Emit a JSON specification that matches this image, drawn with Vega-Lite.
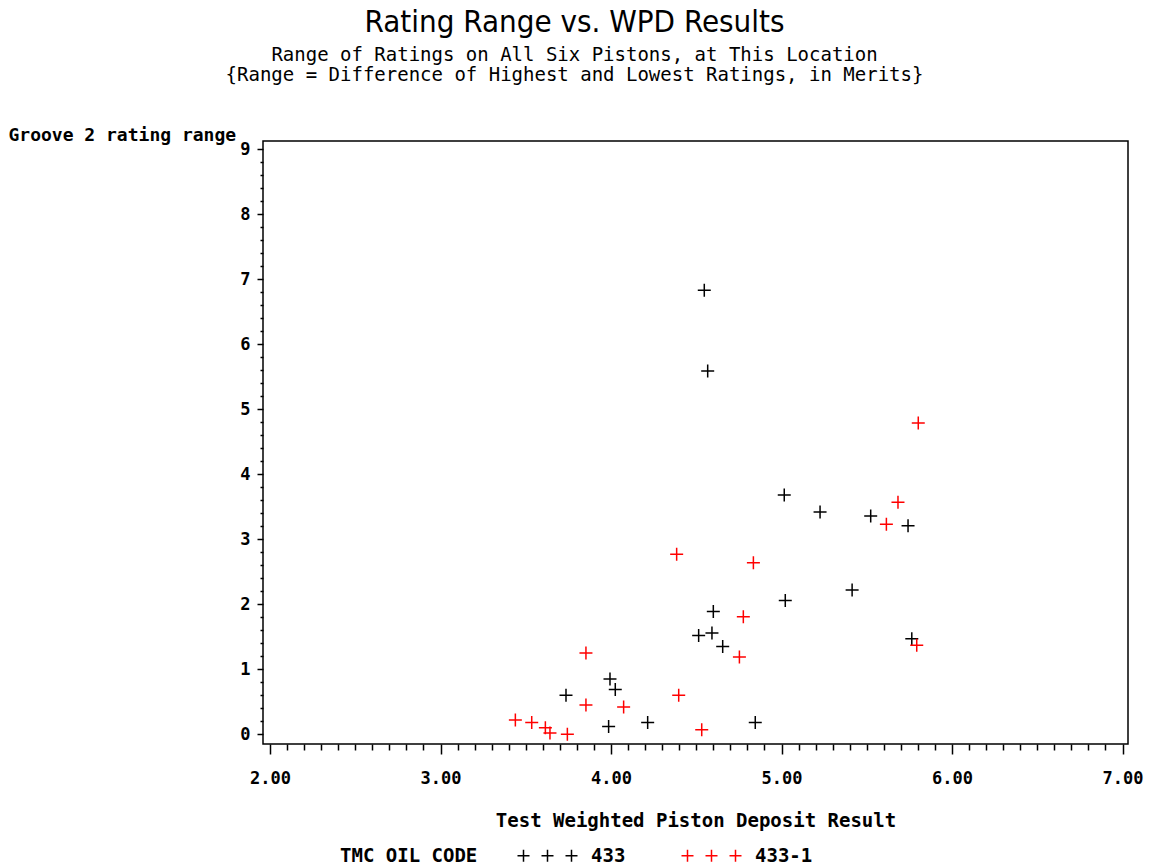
{
  "$schema": "https://vega.github.io/schema/vega-lite/v6.json",
  "width": 865,
  "height": 603,
  "autosize": {"type": "none"},
  "padding": {"left": 263, "top": 141, "right": 22, "bottom": 121},
  "background": "white",
  "config": {
    "view": {"stroke": "black", "strokeWidth": 1.5},
    "axis": {
      "domain": false,
      "grid": false,
      "tickColor": "black",
      "tickWidth": 1.5,
      "labelColor": "black",
      "labelFont": "DejaVu Sans Mono",
      "labelFontWeight": "bold",
      "labelFontSize": 17,
      "titleColor": "black",
      "titleFont": "DejaVu Sans Mono",
      "titleFontWeight": "bold",
      "titleFontSize": 19
    }
  },
  "title": {
    "text": "Rating Range vs. WPD Results",
    "subtitle": ["Range of Ratings on All Six Pistons, at This Location", "{Range = Difference of Highest and Lowest Ratings, in Merits}"],
    "anchor": "middle",
    "frame": "group",
    "dx": -121,
    "offset": 40,
    "font": "Liberation Sans Narrow, DejaVu Sans Condensed, sans-serif",
    "fontSize": 31,
    "fontWeight": "normal",
    "color": "black",
    "subtitleFont": "DejaVu Sans Mono",
    "subtitleFontSize": 19,
    "subtitleColor": "black",
    "subtitleLineHeight": 20,
    "subtitlePadding": 7
  },
  "data": {
    "values": [
      {"code": "433", "wpd": 4.547, "range": 6.83},
      {"code": "433", "wpd": 4.567, "range": 5.59},
      {"code": "433", "wpd": 5.016, "range": 3.68},
      {"code": "433", "wpd": 5.226, "range": 3.42},
      {"code": "433", "wpd": 5.523, "range": 3.36},
      {"code": "433", "wpd": 5.742, "range": 3.21},
      {"code": "433", "wpd": 5.022, "range": 2.06},
      {"code": "433", "wpd": 5.414, "range": 2.22},
      {"code": "433", "wpd": 4.600, "range": 1.89},
      {"code": "433", "wpd": 4.514, "range": 1.52},
      {"code": "433", "wpd": 4.592, "range": 1.56},
      {"code": "433", "wpd": 4.655, "range": 1.35},
      {"code": "433", "wpd": 5.764, "range": 1.47},
      {"code": "433", "wpd": 3.994, "range": 0.85},
      {"code": "433", "wpd": 4.025, "range": 0.69},
      {"code": "433", "wpd": 3.736, "range": 0.60},
      {"code": "433", "wpd": 3.986, "range": 0.12},
      {"code": "433", "wpd": 4.215, "range": 0.18},
      {"code": "433", "wpd": 4.846, "range": 0.18},
      {"code": "433-1", "wpd": 5.802, "range": 4.79},
      {"code": "433-1", "wpd": 5.683, "range": 3.57},
      {"code": "433-1", "wpd": 5.615, "range": 3.23},
      {"code": "433-1", "wpd": 4.385, "range": 2.77},
      {"code": "433-1", "wpd": 4.835, "range": 2.64},
      {"code": "433-1", "wpd": 4.776, "range": 1.81},
      {"code": "433-1", "wpd": 5.793, "range": 1.37},
      {"code": "433-1", "wpd": 3.853, "range": 1.25},
      {"code": "433-1", "wpd": 4.753, "range": 1.19},
      {"code": "433-1", "wpd": 4.397, "range": 0.60},
      {"code": "433-1", "wpd": 3.853, "range": 0.45},
      {"code": "433-1", "wpd": 4.074, "range": 0.42},
      {"code": "433-1", "wpd": 3.439, "range": 0.22},
      {"code": "433-1", "wpd": 3.535, "range": 0.18},
      {"code": "433-1", "wpd": 3.615, "range": 0.10},
      {"code": "433-1", "wpd": 3.642, "range": 0.02},
      {"code": "433-1", "wpd": 3.744, "range": 0.00},
      {"code": "433-1", "wpd": 4.532, "range": 0.07}
    ]
  },
  "layer": [
    {
      "mark": {"type": "point", "shape": "M-1,0H1M0,-1V1", "filled": false, "size": 169, "strokeWidth": 1.5, "opacity": 1},
      "encoding": {
        "x": {
          "field": "wpd", "type": "quantitative",
          "scale": {"domain": [1.959, 7.032], "nice": false, "zero": false},
          "axis": {"orient": "bottom", "values": [2, 3, 4, 5, 6, 7], "format": ".2f", "tickSize": 10, "labelPadding": 16, "title": "Test Weighted Piston Deposit Result", "titlePadding": 25}
        },
        "y": {
          "field": "range", "type": "quantitative",
          "scale": {"domain": [-0.149, 9.128], "nice": false, "zero": false},
          "axis": {"orient": "left", "values": [0, 1, 2, 3, 4, 5, 6, 7, 8, 9], "format": "d", "tickSize": 6, "labelPadding": 7, "title": "Groove 2 rating range", "titleFontSize": 18, "titleAngle": 0, "titleAlign": "left", "titleBaseline": "middle", "titleX": -255, "titleY": -6}
        },
        "color": {
          "field": "code", "type": "nominal",
          "scale": {"domain": ["433", "433-1"], "range": ["#000000", "#ff0000"]},
          "legend": {
            "title": "TMC OIL CODE",
            "orient": "none",
            "legendX": 77,
            "legendY": 705,
            "direction": "horizontal",
            "columns": 2,
            "padding": 0,
            "titleOrient": "left",
            "titleFont": "DejaVu Sans Mono",
            "titleFontSize": 19,
            "titleFontWeight": "bold",
            "titleColor": "black",
            "titlePadding": 60,
            "labelFont": "DejaVu Sans Mono",
            "labelFontSize": 19,
            "labelFontWeight": "bold",
            "labelColor": "black",
            "labelOffset": 34,
            "columnPadding": 52,
            "symbolType": "M-5,0H-3M-4,-1V1M-1,0H1M0,-1V1M3,0H5M4,-1V1",
            "symbolSize": 144,
            "symbolStrokeWidth": 1.5
          }
        }
      }
    },
    {
      "mark": {"type": "point", "opacity": 0},
      "encoding": {
        "x": {
          "field": "wpd", "type": "quantitative",
          "axis": {"orient": "bottom", "title": null, "labels": false, "tickSize": 6,
            "values": [2.1, 2.2, 2.3, 2.4, 2.5, 2.6, 2.7, 2.8, 2.9, 3.1, 3.2, 3.3, 3.4, 3.5, 3.6, 3.7, 3.8, 3.9, 4.1, 4.2, 4.3, 4.4, 4.5, 4.6, 4.7, 4.8, 4.9, 5.1, 5.2, 5.3, 5.4, 5.5, 5.6, 5.7, 5.8, 5.9, 6.1, 6.2, 6.3, 6.4, 6.5, 6.6, 6.7, 6.8, 6.9]}
        },
        "y": {
          "field": "range", "type": "quantitative",
          "axis": {"orient": "left", "title": null, "labels": false, "tickSize": 3,
            "values": [0.2, 0.4, 0.6, 0.8, 1.2, 1.4, 1.6, 1.8, 2.2, 2.4, 2.6, 2.8, 3.2, 3.4, 3.6, 3.8, 4.2, 4.4, 4.6, 4.8, 5.2, 5.4, 5.6, 5.8, 6.2, 6.4, 6.6, 6.8, 7.2, 7.4, 7.6, 7.8, 8.2, 8.4, 8.6, 8.8]}
        }
      }
    }
  ],
  "resolve": {"axis": {"x": "independent", "y": "independent"}}
}
